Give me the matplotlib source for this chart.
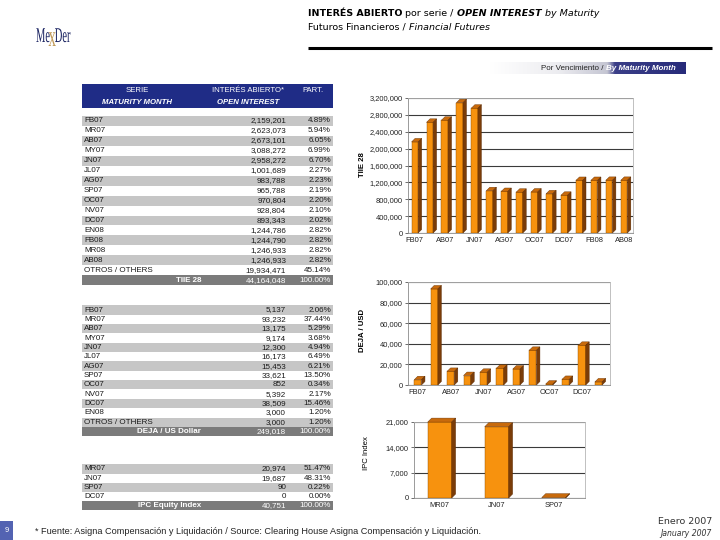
import matplotlib
matplotlib.use('Agg')
import matplotlib.pyplot as plt
from matplotlib.patches import Rectangle, Polygon, PathPatch
from matplotlib.colors import LinearSegmentedColormap
from matplotlib.textpath import TextPath
from matplotlib.font_manager import FontProperties
from matplotlib.transforms import Affine2D
import numpy as np

plt.rcParams['font.family'] = ['Liberation Sans', 'DejaVu Sans']

tiie_series = ['FB07', 'MR07', 'AB07', 'MY07', 'JN07', 'JL07', 'AG07', 'SP07', 'OC07',
               'NV07', 'DC07', 'EN08', 'FB08', 'MR08', 'AB08', 'OTROS / OTHERS']
tiie_oi = [2159201, 2623073, 2673101, 3088272, 2958272, 1001689, 983788, 965788, 970804,
           928804, 893343, 1244786, 1244790, 1246933, 1246933, 19934471]
tiie_part = [4.89, 5.94, 6.05, 6.99, 6.70, 2.27, 2.23, 2.19, 2.20,
             2.10, 2.02, 2.82, 2.82, 2.82, 2.82, 45.14]
tiie_total = 44164048

deja_series = ['FB07', 'MR07', 'AB07', 'MY07', 'JN07', 'JL07', 'AG07', 'SP07', 'OC07',
               'NV07', 'DC07', 'EN08', 'OTROS / OTHERS']
deja_oi = [5137, 93232, 13175, 9174, 12300, 16173, 15453, 33621, 852, 5392, 38509, 3000, 3000]
deja_part = [2.06, 37.44, 5.29, 3.68, 4.94, 6.49, 6.21, 13.50, 0.34, 2.17, 15.46, 1.20, 1.20]
deja_total = 249018

ipc_series = ['MR07', 'JN07', 'SP07', 'DC07']
ipc_oi = [20974, 19687, 90, 0]
ipc_part = [51.47, 48.31, 0.22, 0.00]
ipc_total = 40751

fig = plt.figure(figsize=(7.2, 5.4), dpi=100)
fig.patch.set_facecolor('white')
ax0 = fig.add_axes([0, 0, 1, 1])
ax0.set_xlim(0, 720)
ax0.set_ylim(540, 0)
ax0.axis('off')
renderer = fig.canvas.get_renderer()


def seq_text(x, y, parts, **kw):
    # escribe trozos de texto con estilos distintos uno tras otro
    for s, props in parts:
        t = ax0.text(x, y, s, va='center', ha='left', **kw, **props)
        x += t.get_window_extent(renderer=renderer).width


def px_axes(left, top, right, bottom):
    return fig.add_axes([left / 720, 1 - bottom / 540, (right - left) / 720, (bottom - top) / 540])


# logo (letras estrechas)
fp = FontProperties(family='Liberation Serif')
lx = 36
for s, c, size, dy in [('Me', '#1b2462', 21, 0), ('x', '#c09a5a', 30, 4), ('Der', '#1b2462', 21, 0)]:
    tp = TextPath((0, 0), s, size=size, prop=fp)
    w = tp.get_extents().x1
    path = Affine2D().scale(0.5, -1).translate(lx - (1.5 if s == 'x' else 0), 42 + dy).transform_path(tp)
    ax0.add_patch(PathPatch(path, fc=c, ec='none'))
    lx += w * 0.5 + (-2.5 if s == 'x' else 0.3)

# titulo
seq_text(308, 13, [('INTERÉS ABIERTO', {'fontweight': 'bold'}), (' por serie / ', {}),
                   ('OPEN INTEREST', {'fontweight': 'bold', 'style': 'italic'}), (' by Maturity', {'style': 'italic'})],
         fontsize=6.8, family='DejaVu Sans', color='black')
seq_text(308, 27, [('Futuros Financieros / ', {}), ('Financial Futures', {'style': 'italic'})],
         fontsize=6.8, family='DejaVu Sans', color='black')
ax0.plot([308, 712], [48, 48], color='black', lw=2.2, solid_capstyle='butt')

# banda "Por Vencimiento"
cmap = LinearSegmentedColormap.from_list('banda', [(0, '#ffffff'), (0.35, '#ececf0'), (0.6, '#c4c5d2'),
                                                   (0.64, '#3b3f88'), (1, '#272b7a')])
ax0.imshow(np.linspace(0, 1, 200).reshape(1, -1), cmap=cmap, extent=[490, 686, 74, 62], aspect='auto', zorder=1)
seq_text(541, 68, [('Por Vencimiento / ', {'color': '#222222'}),
                   ('By Maturity Month', {'color': 'white', 'fontweight': 'bold', 'style': 'italic'})],
         fontsize=5.8, zorder=2)

# encabezado de la tabla
ax0.add_patch(Rectangle((82, 84), 251, 24, color='#1f2c86', lw=0))
ax0.text(137, 90, 'SERIE', ha='center', va='center', color='white', fontsize=5.6)
ax0.text(137, 102, 'MATURITY MONTH', ha='center', va='center', color='white', fontsize=5.6,
         fontweight='bold', style='italic')
ax0.text(248, 90, 'INTERÉS ABIERTO*', ha='center', va='center', color='white', fontsize=5.6)
ax0.text(248, 102, 'OPEN INTEREST', ha='center', va='center', color='white', fontsize=5.6,
         fontweight='bold', style='italic')
ax0.text(313, 90, 'PART.', ha='center', va='center', color='white', fontsize=5.6)


def draw_table(series, oi, part, total_name, total_oi, y0, step):
    n = len(series)
    for i in range(n):
        yc = y0 + i * step
        if i % 2 == 0:
            ax0.add_patch(Rectangle((82, yc - step / 2), 251, step, color='#c6c6c6', lw=0))
        ax0.text(84, yc, series[i], ha='left', va='center', color='#1a1a1a', fontsize=5.8)
        ax0.text(286, yc, f'{oi[i]:,}', ha='right', va='center', color='#1a1a1a', fontsize=5.8)
        ax0.text(331, yc, f'{part[i]:.2f}%', ha='right', va='center', color='#1a1a1a', fontsize=5.8)
    yc = y0 + n * step
    ax0.add_patch(Rectangle((82, yc - step / 2), 251, step, color='#7b7b7b', lw=0))
    ax0.text(201, yc, total_name, ha='right', va='center', color='white', fontsize=5.8, fontweight='bold')
    ax0.text(286, yc, f'{total_oi:,}', ha='right', va='center', color='white', fontsize=5.8)
    ax0.text(331, yc, '100.00%', ha='right', va='center', color='white', fontsize=5.8)


draw_table(tiie_series, tiie_oi, tiie_part, 'TIIE 28', tiie_total, 121, 9.95)
draw_table(deja_series, deja_oi, deja_part, 'DEJA / US Dollar', deja_total, 310, 9.35)
draw_table(ipc_series, ipc_oi, ipc_part, 'IPC Equity Index', ipc_total, 469, 9.1)


def bar_chart(rect, names, vals, ymax, ystep, label_idx, xlim, width, depth_px):
    left, top, right, bottom = rect
    ax = px_axes(left, top, right, bottom)
    ax.set_xlim(*xlim)
    ax.set_ylim(0, ymax)
    dx = depth_px * (xlim[1] - xlim[0]) / (right - left)
    dy = depth_px * ymax / (bottom - top)
    for i, v in enumerate(vals):
        x0, x1 = i - width / 2, i + width / 2
        ax.add_patch(Rectangle((x0, 0), width, v, fc='#f7920e', ec='#8a4a00', lw=0.3, zorder=3))
        ax.add_patch(Polygon([(x0, v), (x1, v), (x1 + dx, v + dy), (x0 + dx, v + dy)], closed=True,
                             fc='#c86a0c', ec='#6a3200', lw=0.3, zorder=3, clip_on=False))
        ax.add_patch(Polygon([(x1, 0), (x1 + dx, dy), (x1 + dx, v + dy), (x1, v)], closed=True,
                             fc='#7a3c08', ec='#5a2800', lw=0.3, zorder=3, clip_on=False))
    ticks = np.arange(0, ymax + 1, ystep)
    ax.set_yticks(ticks)
    ax.set_yticklabels([f'{t:,}' for t in ticks], fontsize=5.4, color='#222222')
    ax.set_xticks(label_idx)
    ax.set_xticklabels([names[i] for i in label_idx], fontsize=5.4, color='#222222')
    ax.tick_params(axis='y', length=2.5, width=0.6, color='#555555', pad=1.5)
    ax.tick_params(axis='x', length=0, pad=3)
    ax.yaxis.grid(True, color='#3a3a3a', lw=0.8)
    ax.set_axisbelow(True)
    for s in ['top', 'right']:
        ax.spines[s].set_color('#b5b5b5')
        ax.spines[s].set_linewidth(0.6)
    for s in ['left', 'bottom']:
        ax.spines[s].set_color('#8a8a8a')
        ax.spines[s].set_linewidth(0.6)
    ax.patch.set_alpha(0)
    return ax


bar_chart((408, 98, 633, 233), tiie_series[:15], tiie_oi[:15], 3200000, 400000,
          list(range(0, 15, 2)), (-0.46, 14.6), 0.44, 3.5)
bar_chart((408, 282, 610, 385), deja_series[:12], deja_oi[:12], 100000, 20000,
          list(range(0, 12, 2)), (-0.6, 11.7), 0.44, 3.5)
bar_chart((414, 422, 585, 498), ipc_series[:3], ipc_oi[:3], 21000, 7000,
          [0, 1, 2], (-0.45, 2.55), 0.42, 4)

ax0.text(362, 165, 'TIIE 28', rotation=90, ha='center', va='center', fontsize=5.6, fontweight='bold')
ax0.text(362, 330, 'DEJA / USD', rotation=90, ha='center', va='center', fontsize=5.6, fontweight='bold')
ax0.text(366, 453, 'IPC Index', rotation=90, ha='center', va='center', fontsize=5.6)

# pie de pagina
ax0.add_patch(Rectangle((0, 521), 13, 19, color='#5363b2', lw=0))
ax0.text(6.5, 531, '9', ha='center', va='center', color='white', fontsize=5.5)
ax0.text(35, 531, '* Fuente: Asigna Compensación y Liquidación / Source: Clearing House Asigna Compensación y Liquidación.',
         ha='left', va='center', fontsize=6.6, color='#222222')
ax0.text(712, 521, 'Enero 2007', ha='right', va='center', fontsize=6.8, family='DejaVu Sans', color='#333333')
ax0.text(712, 533, 'January 2007', ha='right', va='center', fontsize=5.6, family='DejaVu Sans',
         style='italic', color='#333333')

ax0.set_xlim(0, 720)
ax0.set_ylim(540, 0)

fig.savefig('out.png', dpi=100)
